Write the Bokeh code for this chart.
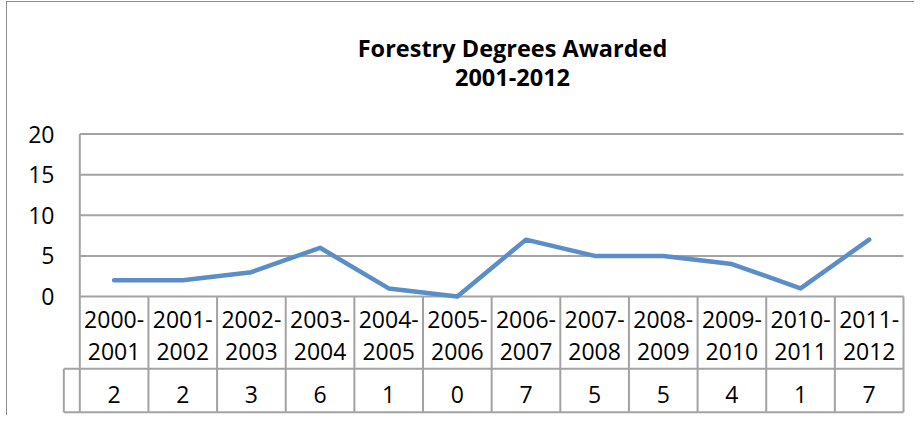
from bokeh.plotting import figure
from bokeh.models import FixedTicker, Range1d, ColumnDataSource
from bokeh.core.properties import value
from bokeh.embed import file_html
from bokeh.resources import INLINE

# ---- data ----
title_lines = ["Forestry Degrees Awarded", "2001-2012"]
year_from = ["2000-", "2001-", "2002-", "2003-", "2004-", "2005-",
             "2006-", "2007-", "2008-", "2009-", "2010-", "2011-"]
year_to = ["2001", "2002", "2003", "2004", "2005", "2006",
           "2007", "2008", "2009", "2010", "2011", "2012"]
degrees = [2, 2, 3, 6, 1, 0, 7, 5, 5, 4, 1, 7]
y_ticks = [0, 5, 10, 15, 20]

FONT = "Open Sans"
GRID = "#A3A3A3"
LINE = "#5B8DC9"

n = len(degrees)
xs = list(range(n))

# layout in data units (table drawn under the value axis)
row_split = -8.90     # between category row and value row
table_bottom = -14.24
stub_left = -0.733    # left edge of table stub cell

p = figure(width=908, height=414, output_backend="svg", toolbar_location=None,
           x_axis_location=None, min_border_left=54, min_border_right=10,
           min_border_top=0, min_border_bottom=2)
p.x_range = Range1d(-0.7666, 11.529)
p.y_range = Range1d(-14.52, 36.185)
p.xgrid.visible = False
p.ygrid.visible = False
p.outline_line_color = None
p.background_fill_color = "white"
p.border_fill_color = "white"
p.styles = {"border-left": "1px solid #8C8C8C", "border-top": "1px solid #8C8C8C",
            "margin-left": "6px", "margin-top": "1px"}

ax = p.yaxis[0]
ax.ticker = FixedTicker(ticks=y_ticks)
ax.axis_line_color = None
ax.major_tick_line_color = None
ax.minor_tick_line_color = None
ax.major_tick_out = 0
ax.major_tick_in = 0
ax.major_label_standoff = 7
ax.major_label_text_font = FONT
ax.major_label_text_font_size = "23px"
ax.major_label_text_color = "black"

left, right = -0.5, n - 0.5

# horizontal gridlines at tick values
p.segment(x0=[left] * len(y_ticks), x1=[right] * len(y_ticks),
          y0=y_ticks, y1=y_ticks, line_color=GRID, line_width=2)
# value axis line continuing through the table
p.segment(x0=[left], x1=[left], y0=[table_bottom], y1=[y_ticks[-1]],
          line_color=GRID, line_width=2)
# column separators in the table
seps = [i + 0.5 for i in xs]
p.segment(x0=seps, x1=seps, y0=[0] * n, y1=[table_bottom] * n,
          line_color=GRID, line_width=2)
# row separator and bottom of table
p.segment(x0=[stub_left, stub_left], x1=[right, right],
          y0=[row_split, table_bottom], y1=[row_split, table_bottom],
          line_color=GRID, line_width=2)
# stub cell left edge
p.segment(x0=[stub_left], x1=[stub_left], y0=[row_split], y1=[table_bottom],
          line_color=GRID, line_width=2)

# data line
p.line(xs, degrees, line_color=LINE, line_width=4.5,
       line_join="round", line_cap="round")

# table texts
src = ColumnDataSource(dict(x=xs, a=year_from, b=year_to,
                            v=[str(d) for d in degrees]))
for col, yy in (("a", -2.79), ("b", -6.79), ("v", -12.09)):
    p.text(x="x", y=yy, text=col, source=src, text_align="center",
           text_baseline="middle", text_font=value(FONT),
           text_font_size="23px", text_color="black")

# title
p.text(x=[5.804, 5.804], y=[30.54, 26.99], text=title_lines, text_align="center",
       text_baseline="middle", text_font=value(FONT),
       text_font_size="23.5px", text_font_style="bold", text_color="black")

open("out.html", "w").write(file_html(p, INLINE))
